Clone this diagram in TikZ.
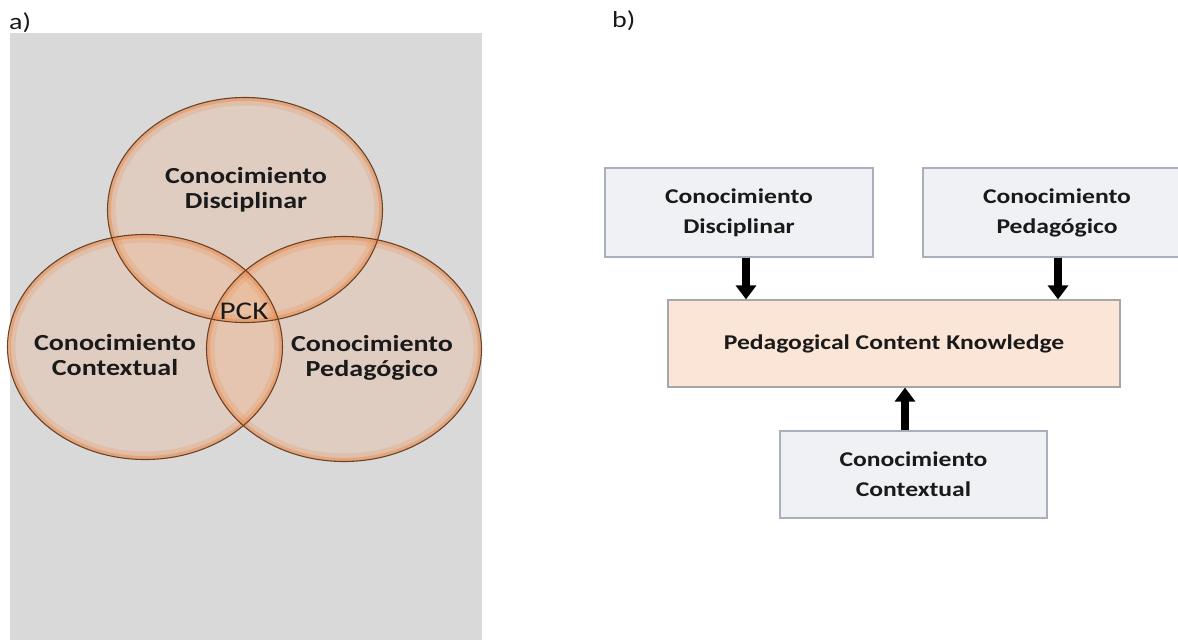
\documentclass[tikz,border=0pt]{standalone}
\usepackage{fontspec}
\setmainfont{Carlito}[FakeStretch=1.22]
\usetikzlibrary{arrows.meta}
\definecolor{panelbg}{HTML}{D9D9D9}
\definecolor{vennfill}{HTML}{F4B183}
\definecolor{vennglow}{HTML}{E58A4E}
\definecolor{vennline}{HTML}{6B4226}
\definecolor{txt}{HTML}{1A1A1A}
\definecolor{boxfill}{HTML}{F0F1F4}
\definecolor{boxline}{HTML}{A9AFBB}
\definecolor{pckfill}{HTML}{FBE5D6}
\definecolor{pckline}{HTML}{A6A6A6}
\tikzset{
  vtext/.style={text=txt, font=\bfseries\fontsize{23}{25}\selectfont, align=center},
  kbox/.style={draw=boxline, line width=1.2pt, fill=boxfill, text=txt,
    font=\bfseries\fontsize{21}{30}\selectfont, align=center,
    minimum width=268pt, minimum height=89pt, inner sep=0pt},
  pckbox/.style={draw=pckline, line width=1.2pt, fill=pckfill, text=txt,
    font=\bfseries\fontsize{21}{30}\selectfont, align=center,
    minimum width=452pt, minimum height=87pt, inner sep=0pt},
  bigarr/.style={line width=7.5pt, draw=black, -{Triangle[width=20pt,length=14pt]}},
  lbl/.style={text=txt, font=\fontsize{23}{25}\selectfont, anchor=base west, inner sep=0pt}
}
\newcommand{\vennellipse}[2]{%
  \begin{scope}
    \clip (#1,#2) ellipse [x radius=137.5, y radius=112.5];
    \draw[vennglow, line width=16pt, opacity=0.22] (#1,#2) ellipse [x radius=137.5, y radius=112.5];
    \draw[vennglow, line width=7pt, opacity=0.45] (#1,#2) ellipse [x radius=137.5, y radius=112.5];
  \end{scope}
}
\begin{document}
\begin{tikzpicture}[x=1pt,y=-1pt]
\useasboundingbox (0,0) rectangle (1178,640);
\clip (0,0) rectangle (1178,640);
\fill[white] (0,0) rectangle (1178,640);

% panel a
\node[lbl] (la) at (9,29) {a)};
\fill[panelbg] (10,33) rectangle (482,640);
\fill[vennfill, opacity=0.28] (245,210) ellipse [x radius=137.5, y radius=112.5];
\fill[vennfill, opacity=0.28] (145,347) ellipse [x radius=137.5, y radius=112.5];
\fill[vennfill, opacity=0.28] (344,349) ellipse [x radius=137.5, y radius=112.5];
\vennellipse{245}{210}
\vennellipse{145}{347}
\vennellipse{344}{349}
\draw[vennline, line width=1.1pt] (245,210) ellipse [x radius=137.5, y radius=112.5];
\draw[vennline, line width=1.1pt] (145,347) ellipse [x radius=137.5, y radius=112.5];
\draw[vennline, line width=1.1pt] (344,349) ellipse [x radius=137.5, y radius=112.5];
\node[vtext] (vd) at (246,190) {Conocimiento\\Disciplinar};
\node[vtext] (vc) at (115,355) {Conocimiento\\Contextual};
\node[vtext] (vp) at (372,358) {Conocimiento\\Pedagógico};
\node[text=txt, font=\fontsize{25.5}{27}\selectfont] (vpck) at (244,311) {PCK};

% panel b
\node[lbl] (lb) at (612,27) {b)};
\node[kbox] (dis) at (739,212.5) {Conocimiento\\Disciplinar};
\node[kbox] (ped) at (1057,212.5) {Conocimiento\\Pedagógico};
\node[pckbox] (pck) at (894,343.5) {Pedagogical Content Knowledge};
\node[kbox, minimum width=267pt, minimum height=87pt] (ctx) at (913.5,474.5) {Conocimiento\\Contextual};
\draw[bigarr] ([xshift=7pt]dis.south) -- ([xshift=7pt]dis.south |- pck.north);
\draw[bigarr] ([xshift=1pt]ped.south) -- ([xshift=1pt]ped.south |- pck.north);
\draw[bigarr] ([xshift=-8.5pt]ctx.north) -- ([xshift=-8.5pt]ctx.north |- pck.south);
\end{tikzpicture}
\end{document}
